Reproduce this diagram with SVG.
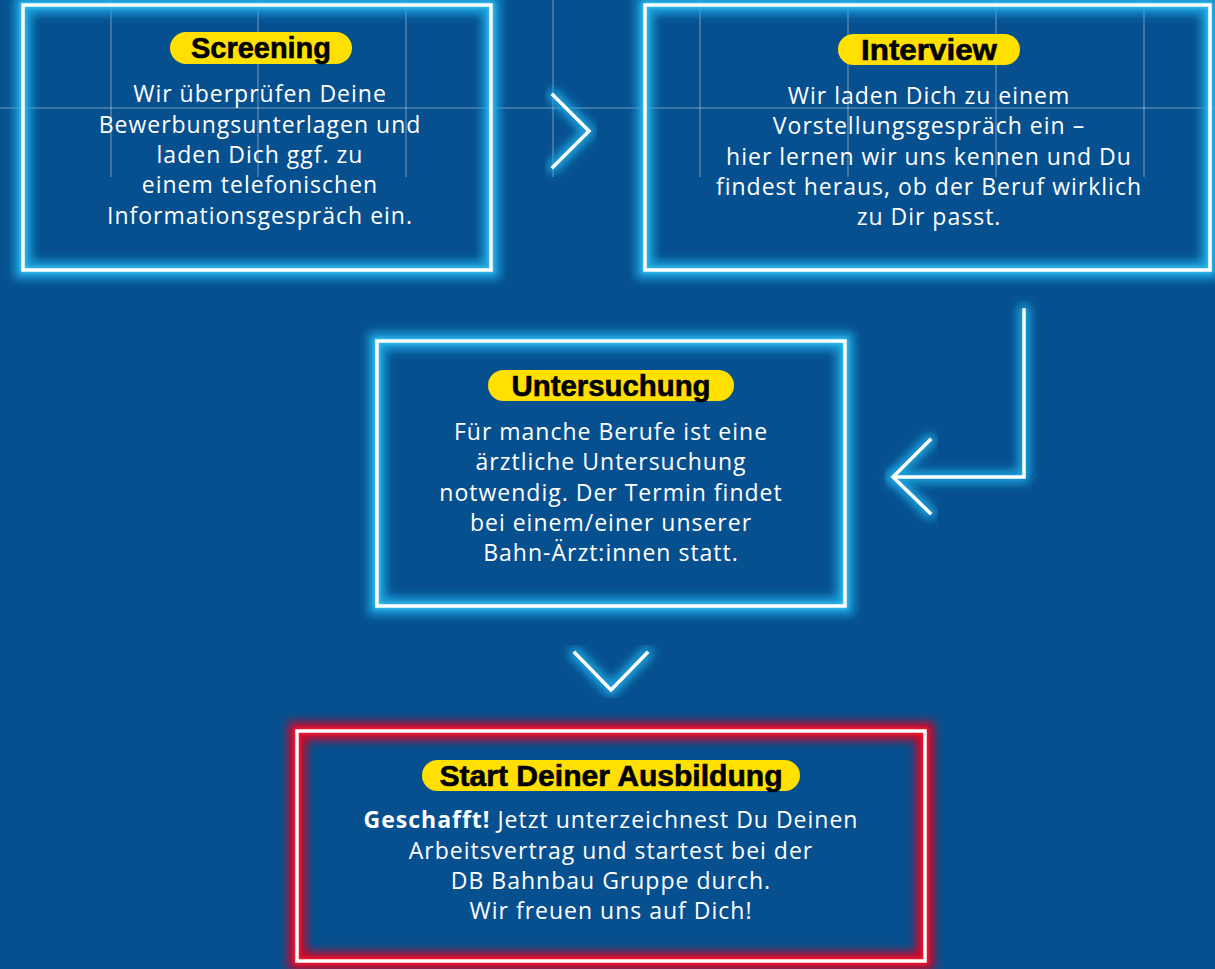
<svg xmlns="http://www.w3.org/2000/svg" width="1215" height="969" viewBox="0 0 1215 969">
<defs>
<style>
.bg{fill:#07508f}
.grid{stroke:#ffffff;stroke-opacity:0.22;stroke-width:2;fill:none}
.glowW{fill:none;stroke:#1fa6e0;stroke-width:18;filter:url(#blurW);opacity:0.9}
.glowN{fill:none;stroke:#38bff0;stroke-width:6;filter:url(#blurN)}
.glowWr{fill:none;stroke:#e3001b;stroke-width:18;filter:url(#blurW);opacity:0.9}
.glowNr{fill:none;stroke:#ff1a2e;stroke-width:6;filter:url(#blurN)}
.edge{fill:none;stroke:#ffffff;stroke-width:3.5}
.pill{fill:#ffe000}
.head{font-family:"Liberation Sans",Arial,sans-serif;font-weight:bold;font-size:29px;fill:#000000;stroke:#000000;stroke-width:0.6;text-anchor:middle}
.body{font-family:"Open Sans","Noto Sans",sans-serif;font-size:23px;letter-spacing:1px;fill:#ffffff;text-anchor:middle}
.arrow{fill:none;stroke:#ffffff;stroke-width:3.5;stroke-linecap:square;stroke-linejoin:miter}
.arrowGlow{fill:none;stroke:#1fa6e0;stroke-width:12;filter:url(#blurW);stroke-linecap:round;stroke-linejoin:round}
</style>
<filter id="blurW" x="-20%" y="-20%" width="140%" height="140%"><feGaussianBlur stdDeviation="5"/></filter>
<filter id="blurN" x="-20%" y="-20%" width="140%" height="140%"><feGaussianBlur stdDeviation="2"/></filter>
</defs>
<rect class="bg" x="0" y="0" width="1215" height="969"/>
<g id="grid">
<line class="grid" x1="0" y1="108" x2="1215" y2="108"/>
<line class="grid" x1="111" y1="0" x2="111" y2="177"/>
<line class="grid" x1="258" y1="0" x2="258" y2="177"/>
<line class="grid" x1="406" y1="0" x2="406" y2="177"/>
<line class="grid" x1="553" y1="0" x2="553" y2="177"/>
<line class="grid" x1="700" y1="0" x2="700" y2="177"/>
<line class="grid" x1="848" y1="0" x2="848" y2="177"/>
<line class="grid" x1="996" y1="0" x2="996" y2="177"/>
<line class="grid" x1="1144" y1="0" x2="1144" y2="177"/>
</g>
<g id="connectors">
<polyline class="arrowGlow" points="553,95 589,131 553,167"/>
<polyline class="arrow" points="553,95 589,131 553,167"/>
<polyline class="arrowGlow" points="1024,310 1024,477 893,477"/>
<polyline class="arrowGlow" points="930,440 893,477 930,513"/>
<polyline class="arrow" points="1024,310 1024,477 895,477"/>
<polyline class="arrow" points="930,440 893,477 930,513"/>
<polyline class="arrowGlow" points="575,653 611,690 647,653"/>
<polyline class="arrow" points="575,653 611,690 647,653"/>
</g>
<g id="screening">
<rect class="glowW" x="23" y="5" width="468" height="265"/>
<rect class="glowN" x="23" y="5" width="468" height="265"/>
<rect class="edge" x="23" y="5" width="468" height="265"/>
<rect class="pill" x="170" y="32" width="182" height="32" rx="16"/>
<text class="head" x="261" y="58" textLength="140" lengthAdjust="spacingAndGlyphs">Screening</text>
<text class="body" x="260" y="102">Wir überprüfen Deine</text>
<text class="body" x="260" y="133">Bewerbungsunterlagen und</text>
<text class="body" x="260" y="163">laden Dich ggf. zu</text>
<text class="body" x="260" y="193">einem telefonischen</text>
<text class="body" x="260" y="224">Informationsgespräch ein.</text>
</g>
<g id="interview">
<rect class="glowW" x="645" y="5" width="565" height="265"/>
<rect class="glowN" x="645" y="5" width="565" height="265"/>
<rect class="edge" x="645" y="5" width="565" height="265"/>
<rect class="pill" x="838" y="34" width="182" height="31" rx="15.5"/>
<text class="head" x="929" y="60" textLength="136" lengthAdjust="spacingAndGlyphs">Interview</text>
<text class="body" x="929" y="104">Wir laden Dich zu einem</text>
<text class="body" x="929" y="134">Vorstellungsgespräch ein –</text>
<text class="body" x="929" y="165">hier lernen wir uns kennen und Du</text>
<text class="body" x="929" y="195">findest heraus, ob der Beruf wirklich</text>
<text class="body" x="929" y="225">zu Dir passt.</text>
</g>
<g id="untersuchung">
<rect class="glowW" x="377" y="341" width="468" height="265"/>
<rect class="glowN" x="377" y="341" width="468" height="265"/>
<rect class="edge" x="377" y="341" width="468" height="265"/>
<rect class="pill" x="488" y="370" width="246" height="31" rx="15.5"/>
<text class="head" x="611" y="396" textLength="199" lengthAdjust="spacingAndGlyphs">Untersuchung</text>
<text class="body" x="611" y="440">Für manche Berufe ist eine</text>
<text class="body" x="611" y="470">ärztliche Untersuchung</text>
<text class="body" x="611" y="501">notwendig. Der Termin findet</text>
<text class="body" x="611" y="531">bei einem/einer unserer</text>
<text class="body" x="611" y="561">Bahn-Ärzt:innen statt.</text>
</g>
<g id="start">
<rect class="glowWr" x="297" y="731" width="628" height="230"/>
<rect class="glowNr" x="297" y="731" width="628" height="230"/>
<rect class="edge" x="297" y="731" width="628" height="230"/>
<rect class="pill" x="422" y="760" width="378" height="31" rx="15.5"/>
<text class="head" x="611" y="786" textLength="343" lengthAdjust="spacingAndGlyphs">Start Deiner Ausbildung</text>
<text class="body" x="611" y="828"><tspan font-weight="bold">Geschafft!</tspan> Jetzt unterzeichnest Du Deinen</text>
<text class="body" x="611" y="859">Arbeitsvertrag und startest bei der</text>
<text class="body" x="611" y="889">DB Bahnbau Gruppe durch.</text>
<text class="body" x="611" y="919">Wir freuen uns auf Dich!</text>
</g>
</svg>
